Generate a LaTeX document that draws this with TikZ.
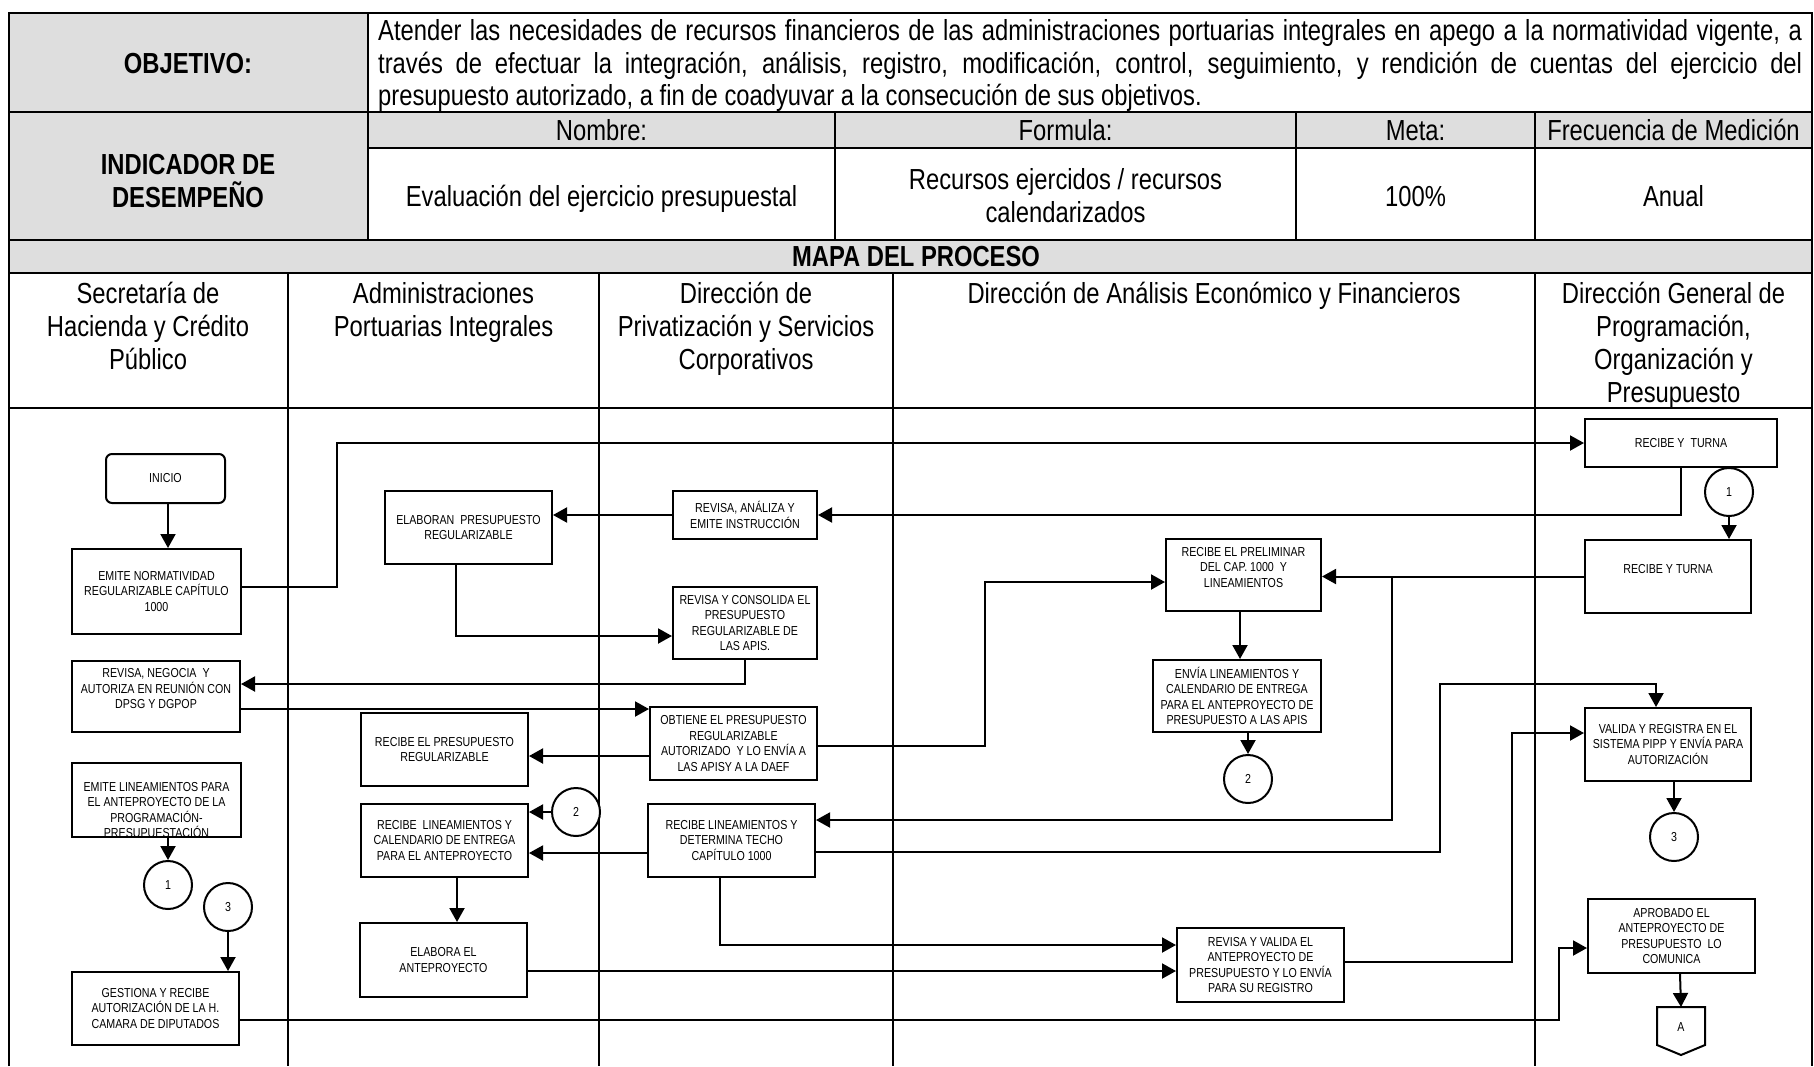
\documentclass[tikz,border=0pt]{standalone}
\usepackage{fontspec}
\setmainfont{Liberation Sans}[FakeStretch=0.82]
\usetikzlibrary{arrows.meta}
\definecolor{hdr}{RGB}{222,222,222}
\newcommand\bigfont{\fontsize{29}{33}\selectfont}
\newcommand\boxfont{\fontsize{13}{15.6}\selectfont}
\tikzset{
  tbl/.style={line width=2.2pt},
  lanel/.style={line width=2pt},
  box/.style={draw, line width=2pt, fill=white, inner sep=0pt, align=center, font=\boxfont},
  con/.style={draw, line width=2pt, fill=white, circle, minimum size=48pt, inner sep=0pt, font=\boxfont},
  arr/.style={line width=2pt, -{Triangle[length=14pt,width=15pt]}},
  ln/.style={line width=2pt},
  bigtxt/.style={font=\bigfont, inner sep=0pt},
  bigbold/.style={font=\bigfont\bfseries, inner sep=0pt},
}
\begin{document}
\begin{tikzpicture}[x=1pt,y=-1pt]
\useasboundingbox (0,0) rectangle (1814,1066);
% ---------- table backgrounds ----------
\fill[hdr] (9,13) rectangle (368,240);
\fill[hdr] (368,112) rectangle (1812,148);
\fill[hdr] (9,240) rectangle (1812,273);
% ---------- table lines ----------
\draw[tbl] (9,1066) -- (9,13) -- (1812,13) -- (1812,1066);
\draw[tbl] (9,112) -- (1812,112);
\draw[tbl] (368,148) -- (1812,148);
\draw[tbl] (9,240) -- (1812,240);
\draw[tbl] (9,273) -- (1812,273);
\draw[tbl] (9,408) -- (1812,408);
\draw[tbl] (368,13) -- (368,240);
\draw[tbl] (835,112) -- (835,240);
\draw[tbl] (1296,112) -- (1296,240);
\draw[tbl] (1535,112) -- (1535,240);
\draw[lanel] (288,273) -- (288,1066);
\draw[lanel] (599,273) -- (599,1066);
\draw[lanel] (893,273) -- (893,1066);
\draw[lanel] (1535,273) -- (1535,1066);
% ---------- header texts ----------
\node[bigbold, anchor=base] (objl) at (188,73) {OBJETIVO:};
\node[bigtxt, anchor=base west] (obj1) at (378,40) {\makebox[1424pt][s]{Atender las necesidades de recursos financieros de las administraciones portuarias integrales en apego a la normatividad vigente, a}};
\node[bigtxt, anchor=base west] (obj2) at (378,73) {\makebox[1424pt][s]{través de efectuar la integración, análisis, registro, modificación, control, seguimiento, y rendición de cuentas del ejercicio del}};
\node[bigtxt, anchor=base west] (obj3) at (378,105) {presupuesto autorizado, a fin de coadyuvar a la consecución de sus objetivos.};
\node[bigbold, anchor=base, text width=340pt, align=flush center] (indl) at (188,174) {INDICADOR DE\\DESEMPEÑO};
\node[bigtxt, anchor=base] (h1) at (601.5,140) {Nombre:};
\node[bigtxt, anchor=base] (h2) at (1065.5,140) {Formula:};
\node[bigtxt, anchor=base] (h3) at (1415.5,140) {Meta:};
\node[bigtxt, anchor=base] (h4) at (1673.5,140) {Frecuencia de Medición};
\node[bigtxt, anchor=base] (v1) at (601.5,206) {Evaluación del ejercicio presupuestal};
\node[bigtxt, anchor=base, text width=440pt, align=flush center] (v2) at (1065.5,189) {Recursos ejercidos / recursos\\calendarizados};
\node[bigtxt, anchor=base] (v3) at (1415.5,206) {100\%};
\node[bigtxt, anchor=base] (v4) at (1673.5,206) {Anual};
\node[bigbold, anchor=base] (mapa) at (916,266) {MAPA DEL PROCESO};
% ---------- lane headers ----------
\node[bigtxt, anchor=base, text width=275pt, align=flush center] (lane1) at (148,303) {Secretaría de\\Hacienda y Crédito\\Público};
\node[bigtxt, anchor=base, text width=305pt, align=flush center] (lane2) at (443.5,303) {Administraciones\\Portuarias Integrales};
\node[bigtxt, anchor=base, text width=290pt, align=flush center] (lane3) at (746,303) {Dirección de\\Privatización y Servicios\\Corporativos};
\node[bigtxt, anchor=base] (lane4) at (1214,303) {Dirección de Análisis Económico y Financieros};
\node[bigtxt, anchor=base, text width=275pt, align=flush center] (lane5) at (1673.5,303) {Dirección General de\\Programación,\\Organización y\\Presupuesto};
% ---------- process boxes ----------
\node[box, minimum width=119pt, minimum height=49pt, rounded corners=6pt] (inicio) at (165.5,478.5) {INICIO};
\node[box, minimum width=169pt, minimum height=85pt] (emite) at (156.5,591.5) {EMITE NORMATIVIDAD\\REGULARIZABLE CAPÍTULO\\1000};
\node[box, minimum width=168pt, minimum height=71pt] (negocia) at (156,696.5) {REVISA, NEGOCIA\ \ Y\\AUTORIZA EN REUNIÓN CON\\DPSG Y DGPOP\\\mbox{}};
\begin{scope}
  \clip (72,763) rectangle (241,837);
  \node[align=center, font=\boxfont, inner sep=0pt] (emitelintxt) at (156.5,810) {EMITE LINEAMIENTOS PARA\\EL ANTEPROYECTO DE LA\\PROGRAMACIÓN-\\PRESUPUESTACIÓN};
\end{scope}
\node[draw, line width=2pt, minimum width=169pt, minimum height=74pt, inner sep=0pt] (emitelin) at (156.5,800) {};
\node[box, minimum width=167pt, minimum height=73pt] (gestiona) at (155.5,1008.5) {GESTIONA Y RECIBE\\AUTORIZACIÓN DE LA H.\\CAMARA DE DIPUTADOS};
\node[box, minimum width=167pt, minimum height=73pt] (elaboran) at (468.5,527.5) {ELABORAN\ \ PRESUPUESTO\\REGULARIZABLE};
\node[box, minimum width=167pt, minimum height=73pt] (recpres) at (444.5,749.5) {RECIBE EL PRESUPUESTO\\REGULARIZABLE};
\node[box, minimum width=167pt, minimum height=73pt] (reclin) at (444.5,840.5) {RECIBE\ \ LINEAMIENTOS Y\\CALENDARIO DE ENTREGA\\PARA EL ANTEPROYECTO};
\node[box, minimum width=167pt, minimum height=74pt] (elabora) at (443.5,960) {ELABORA EL\\ANTEPROYECTO};
\node[box, minimum width=144pt, minimum height=48pt] (analiza) at (745,515) {REVISA, ANÁLIZA Y\\EMITE INSTRUCCIÓN};
\node[box, minimum width=144pt, minimum height=72pt] (consolida) at (745,623) {REVISA Y CONSOLIDA EL\\PRESUPUESTO\\REGULARIZABLE DE\\LAS APIS.};
\node[box, minimum width=167pt, minimum height=73pt] (obtiene) at (733.5,743.5) {OBTIENE EL PRESUPUESTO\\REGULARIZABLE\\AUTORIZADO\ \ Y LO ENVÍA A\\LAS APISY A LA DAEF};
\node[box, minimum width=167pt, minimum height=73pt] (determina) at (731.5,840.5) {RECIBE LINEAMIENTOS Y\\DETERMINA TECHO\\CAPÍTULO 1000};
\node[box, minimum width=155pt, minimum height=72pt] (prelim) at (1243.5,575) {RECIBE EL PRELIMINAR\\DEL CAP. 1000\ \ Y\\LINEAMIENTOS\\\mbox{}};
\node[box, minimum width=168pt, minimum height=72pt] (envia) at (1237,696) {ENVÍA LINEAMIENTOS Y\\CALENDARIO DE ENTREGA\\PARA EL ANTEPROYECTO DE\\PRESUPUESTO A LAS APIS};
\node[box, minimum width=167pt, minimum height=74pt] (revval) at (1260.5,965) {REVISA Y VALIDA EL\\ANTEPROYECTO DE\\PRESUPUESTO Y LO ENVÍA\\PARA SU REGISTRO};
\node[box, minimum width=192pt, minimum height=48pt] (ryt1) at (1681,443) {RECIBE Y\ \ TURNA};
\node[box, minimum width=166pt, minimum height=73pt] (ryt2) at (1668,576.5) {RECIBE Y TURNA\\\mbox{}};
\node[box, minimum width=166pt, minimum height=73pt] (valida) at (1668,744.5) {VALIDA Y REGISTRA EN EL\\SISTEMA PIPP Y ENVÍA PARA\\AUTORIZACIÓN};
\node[box, minimum width=167pt, minimum height=74pt] (aprobado) at (1671.5,936) {APROBADO EL\\ANTEPROYECTO DE\\PRESUPUESTO\ \ LO\\COMUNICA};
% off-page connector
\draw[line width=2pt, fill=white] (1657,1007) -- (1705,1007) -- (1705,1045) -- (1681,1055) -- (1657,1045) -- cycle;
\node[font=\boxfont, inner sep=0pt] (offA) at (1681,1027) {A};
\coordinate (Atop) at (1681,1007);
% connectors (circles)
\node[con] (c1a) at (168,885) {1};
\node[con] (c3a) at (228,907) {3};
\node[con] (c2a) at (576,812) {2};
\node[con] (c1b) at (1729,492) {1};
\node[con] (c2b) at (1248,779) {2};
\node[con] (c3b) at (1674,837) {3};
% ---------- flow lines ----------
\draw[arr] (inicio.south -| 168,0) -- (emite.north -| 168,0);
\draw[arr] (emite.east |- 0,587) -- (337,587) -- (337,443) -- (ryt1.west);
\draw[arr] (ryt1.south) -- (1681,515) -- (analiza.east);
\draw[arr] (analiza.west) -- (elaboran.east |- analiza.west);
\draw[arr] (elaboran.south -| 456,0) -- (456,636) -- (consolida.west |- 0,636);
\draw[arr] (consolida.south) -- (745,684) -- (negocia.east |- 0,684);
\draw[arr] (negocia.east |- 0,709) -- (obtiene.west |- 0,709);
\draw[arr] (obtiene.west |- 0,756) -- (recpres.east |- 0,756);
\draw[arr] (obtiene.east |- 0,746) -- (985,746) -- (985,582) -- (prelim.west |- 0,582);
\draw[arr] (c1b) -- (ryt2.north -| c1b);
\draw[arr] (ryt2.west) -- (prelim.east |- ryt2.west);
\coordinate (j1) at (1392,576.5);
\draw[arr] (j1) -- (1392,820) -- (determina.east |- 0,820);
\draw[arr] (prelim.south -| 1240,0) -- (envia.north -| 1240,0);
\draw[arr] (envia.south -| c2b) -- (c2b);
\draw[arr] (c2a) -- (reclin.east |- c2a);
\draw[arr] (determina.west |- 0,853) -- (reclin.east |- 0,853);
\draw[arr] (determina.east |- 0,852) -- (1440,852) -- (1440,684) -- (1656,684) -- (valida.north -| 1656,0);
\draw[arr] (reclin.south -| 457,0) -- (elabora.north -| 457,0);
\draw[arr] (determina.south -| 720,0) -- (720,945) -- (revval.west |- 0,945);
\draw[arr] (elabora.east |- 0,971) -- (revval.west |- 0,971);
\draw[arr] (revval.east |- 0,962) -- (1512,962) -- (1512,733) -- (valida.west |- 0,733);
\draw[arr] (valida.south -| 1674,0) -- (c3b);
\draw[arr] (emitelin.south -| c1a) -- (c1a);
\draw[arr] (c3a) -- (gestiona.north -| c3a);
\draw[arr] (gestiona.east |- 0,1020) -- (1559,1020) -- (1559,948) -- (aprobado.west |- 0,948);
\draw[arr] (aprobado.south -| 1680,0) -- (Atop);
\end{tikzpicture}
\end{document}
